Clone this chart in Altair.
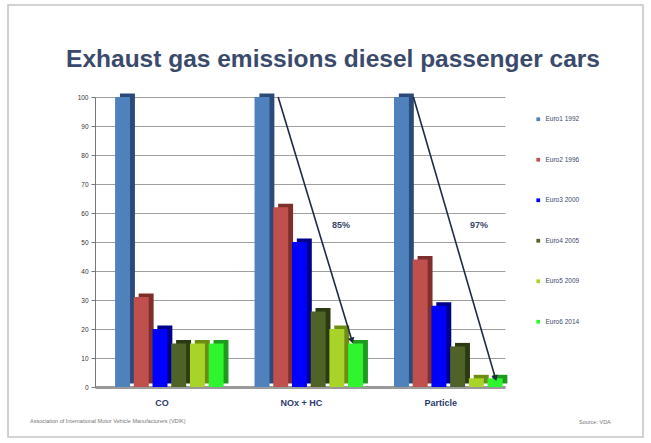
import altair as alt
import pandas as pd
import math

categories = ["CO", "NOx + HC", "Particle"]
series = ["Euro1 1992", "Euro2 1996", "Euro3 2000", "Euro4 2005", "Euro5 2009", "Euro6 2014"]
co_values = [100, 31, 20, 15, 15, 15]
nox_values = [100, 62, 50, 26, 20, 15]
particle_values = [100, 44, 28, 14, 3, 3]
front_colors = ["#4F81BD", "#C0504D", "#0000FF", "#4F6228", "#A8D42A", "#2EF52E"]
side_colors = ["#2B4A78", "#7E2F2C", "#00008A", "#2C3A12", "#6D8C12", "#1E9A1E"]
y_ticks = list(range(0, 101, 10))

# arrow annotations (group position on a 0..3 scale, value)
arrow_group = ["NOx", "NOx", "Particle", "Particle"]
arrow_x = [1.34, 1.88, 2.33, 2.93]
arrow_y = [100, 16, 100, 3]
label_text = ["85%", "97%"]
label_x = [1.80, 2.81]
label_y = [56, 56]

rows = []
for cat, vals in zip(categories, [co_values, nox_values, particle_values]):
    for s, v in zip(series, vals):
        rows.append({"category": cat, "series": s, "value": v})
df = pd.DataFrame(rows)

W, H = 410, 290

y_axis = alt.Axis(title=None, values=y_ticks, labelFontSize=6.5,
                  labelColor="#333333", labelFont="Liberation Sans",
                  gridColor="#A0A0A0", gridWidth=1, tickColor="#777777", tickSize=4,
                  domainColor="#777777", labelPadding=3)
y_scale = alt.Scale(domain=[0, 100], nice=False)

x_enc = alt.X("category:N", sort=categories,
              scale=alt.Scale(paddingInner=0.16, paddingOuter=0.05, align=0.6),
              axis=alt.Axis(title=None, labelAngle=0, labelFontSize=9, labelFontWeight="bold",
                            labelFont="Liberation Sans", labelColor="#2E3A6E", labelPadding=11,
                            ticks=False, domainColor="#9A9A9A", domainWidth=3))
y_enc = alt.Y("value:Q", title=None, scale=y_scale, axis=y_axis)

side = alt.Chart(df).mark_bar(width=alt.RelativeBandSize(0.8), yOffset=-3.5).encode(
    x=x_enc, y=y_enc,
    xOffset=alt.XOffset("series:N", sort=series,
                        scale=alt.Scale(paddingInner=0, paddingOuter=0.13, align=1)),
    color=alt.Color("series:N", sort=series, legend=None,
                    scale=alt.Scale(domain=series, range=side_colors)),
)

front = alt.Chart(df).mark_bar(width=alt.RelativeBandSize(0.8)).encode(
    x=x_enc, y=y_enc,
    xOffset=alt.XOffset("series:N", sort=series,
                        scale=alt.Scale(paddingInner=0, paddingOuter=0.13, align=0)),
    color=alt.Color("series:N", sort=series,
                    scale=alt.Scale(domain=series, range=front_colors),
                    legend=alt.Legend(title=None, orient="none", legendX=440, legendY=19,
                                      symbolType="square", symbolSize=14, symbolStrokeWidth=0,
                                      labelFontSize=6.5, labelColor="#3B4A6B",
                                      labelFont="Liberation Sans", rowPadding=33.5)),
)
bars = alt.layer(side, front).resolve_scale(color="independent", xOffset="independent")

adf = pd.DataFrame({"g": arrow_group, "x": arrow_x, "y": arrow_y})
xq = alt.X("x:Q", scale=alt.Scale(domain=[0, 3]), axis=None)
yq = alt.Y("y:Q", title=None, scale=y_scale, axis=y_axis)
lines = alt.Chart(adf).mark_line(color="#1F2A44", strokeWidth=1.6).encode(x=xq, y=yq, detail="g:N")

# arrow heads at the end points, rotated along the line direction
heads = []
for i in range(0, len(arrow_x), 2):
    dx = (arrow_x[i + 1] - arrow_x[i]) / 3 * W
    dy = (arrow_y[i] - arrow_y[i + 1]) / 100 * H
    ang = 180 - math.degrees(math.atan2(dx, dy))
    heads.append({"x": arrow_x[i + 1], "y": arrow_y[i + 1], "ang": ang})
hdf = pd.DataFrame(heads)
head = alt.Chart(hdf).mark_point(shape="triangle-up", filled=True, color="#1F2A44", size=45, opacity=1).encode(
    x=xq, y=yq, angle=alt.Angle("ang:Q", scale=None))

ldf = pd.DataFrame({"x": label_x, "y": label_y, "t": label_text})
labels = alt.Chart(ldf).mark_text(fontSize=9, fontWeight="bold", color="#3A4766",
                                  font="Liberation Sans").encode(x=xq, y=yq, text="t:N")

annot = alt.layer(lines, head, labels)

title_df = pd.DataFrame({"t": ["Exhaust gas emissions diesel passenger cars"]})
title = alt.Chart(title_df).mark_text(fontSize=24.5, fontWeight="bold", color="#3A4A6C",
                                      font="Liberation Sans", baseline="middle").encode(
    x=alt.value(238), y=alt.value(-37), text="t:N")

foot_df = pd.DataFrame({"t": ["Association of International Motor Vehicle Manufacturers (VDIK)"]})
foot1 = alt.Chart(foot_df).mark_text(align="left", fontSize=5.5, color="#777777",
                                      font="Liberation Sans").encode(
    x=alt.value(-65), y=alt.value(324), text="t:N")
src_df = pd.DataFrame({"t": ["Source: VDA"]})
foot2 = alt.Chart(src_df).mark_text(align="left", fontSize=5.5, color="#777777",
                                     font="Liberation Sans").encode(
    x=alt.value(484), y=alt.value(325), text="t:N")
frame = alt.Chart(src_df).mark_rect(fill=None, stroke="#C4C4C4", strokeWidth=1.5).encode(
    x=alt.value(-87), x2=alt.value(548), y=alt.value(-92), y2=alt.value(340))

chart = alt.layer(frame, bars, annot, title, foot1, foot2).resolve_scale(
    x="independent", y="shared", color="independent"
).properties(
    width=W, height=H,
    autosize=alt.AutoSizeParams(type="none"),
    padding={"left": 95, "top": 97, "right": 146, "bottom": 56},
    background="white",
).configure_view(stroke=None)

chart.save("out.html", embed_options={"renderer": "svg", "actions": False})
